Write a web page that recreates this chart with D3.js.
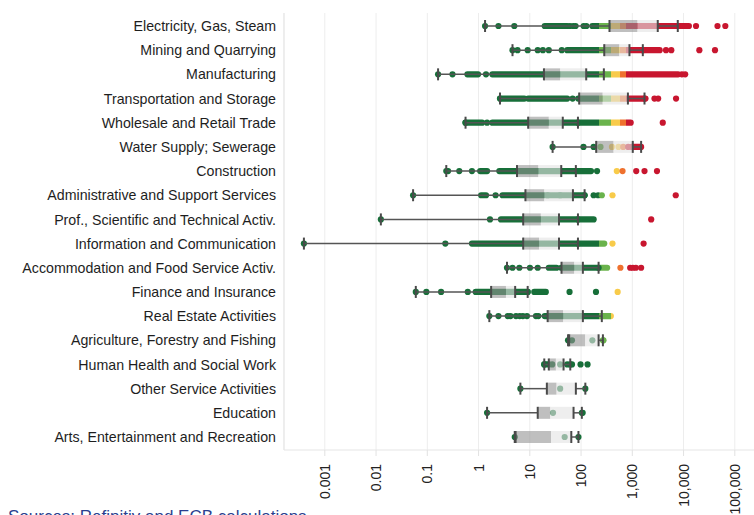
<!DOCTYPE html>
<html>
<head>
<meta charset="utf-8">
<script src="https://cdn.jsdelivr.net/npm/d3@7"></script>
<style>
  html, body { margin: 0; padding: 0; background: #fff; }
  svg { display: block; font-family: "Liberation Sans", Arial, sans-serif; }
</style>
</head>
<body>
<svg id="chart" width="754" height="515"></svg>
<script>
// Sectors, top to bottom
const sectors = [
  "Electricity, Gas, Steam",
  "Mining and Quarrying",
  "Manufacturing",
  "Transportation and Storage",
  "Wholesale and Retail Trade",
  "Water Supply; Sewerage",
  "Construction",
  "Administrative and Support Services",
  "Prof., Scientific and Technical Activ.",
  "Information and Communication",
  "Accommodation and Food Service Activ.",
  "Finance and Insurance",
  "Real Estate Activities",
  "Agriculture, Forestry and Fishing",
  "Human Health and Social Work",
  "Other Service Activities",
  "Education",
  "Arts, Entertainment and Recreation"
];

// Box-plot statistics per sector (log scale)
const lowWhisker  = [1.37, 4.7, 0.166, 2.68, 0.57, 28.5, 0.24, 0.054, 0.0127, 0.0004, 3.67, 0.061, 1.66, 57, 19.6, 6.7, 1.5, 5.2];
const q1          = [367, 290, 19.3, 94, 9.5, 202, 5.75, 8.4, 7.6, 7.6, 42.5, 1.8, 22.8, 60, 24, 22, 14.6, 5.4];
const median      = [1290, 570, 40, 270, 24, 440, 15, 19.6, 16.8, 15.5, 75, 3.5, 45.7, 123, 33, 34, 25.6, 26.5];
const q3          = [3210, 900, 129, 840, 45, 1045, 42, 71, 38, 38, 111, 5.3, 111, 225, 46.6, 81, 73, 66];
const highWhisker = [7890, 1640, 285, 1770, 89, 1520, 81, 120, 89, 89, 225, 9.3, 260, 273, 63, 124, 106, 91];

// Ranges where firm observations are packed so densely they merge into a band
const denseRuns = [
  [[20, 55], [170, 13000]],
  [[55, 3500]],
  [[0.62, 1.0], [1.9, 8000]],
  [[2.7, 8], [9.5, 55], [90, 1850]],
  [[0.57, 1.2], [1.9, 950]],
  [[1000, 1420]],
  [[1.1, 1.5], [2.6, 160]],
  [[1.15, 1.43], [3, 120]],
  [[2.8, 180]],
  [[0.76, 290]],
  [[24, 34], [42, 330]],
  [[0.9, 9.3], [12.5, 21]],
  [[20, 390]],
  [],
  [[19.6, 24]],
  [],
  [],
  []
];

// Individual observations outside the dense bands
const singlePoints = [
  [2.5, 5.1, 62, 72, 80, 115, 130, 17900, 47000, 66800],
  [5.9, 9.3, 14.6, 18.4, 24, 43, 4650, 5900, 20800, 42000],
  [0.317, 1.43, 9500, 11000],
  [70, 2770, 3270, 7300],
  [1.5, 4020],
  [114, 180, 245, 410, 550, 680, 850],
  [0.26, 0.43, 0.76, 210, 510, 660, 1220, 1770, 3100],
  [2.2, 22.8, 40, 180, 220, 260, 420, 7200],
  [1.71, 2390],
  [0.23, 420, 1700],
  [4.7, 6.4, 10.3, 14.6, 600, 930, 1050, 1200, 1520],
  [0.098, 0.19, 0.63, 61, 200, 530],
  [2.5, 3.8, 4.3, 5.5, 6.5, 7.5, 9, 13.5, 15],
  [68, 170, 280],
  [28, 40, 55, 68, 100, 137],
  [40],
  [29, 110],
  [49]
];

// Value classes for point colouring
const classBreaks = [230, 400, 600, 780];
const classColors = ["#176f39", "#6ab34c", "#f8cb4a", "#ef712e", "#c8162f"];

// Axis ticks
const tickValues = [0.001, 0.01, 0.1, 1, 10, 100, 1000, 10000, 100000];
const tickLabels = ["0.001", "0.01", "0.1", "1", "10", "100", "1,000", "10,000", "100,000"];

const sourceNote = "Sources: Refinitiv and ECB calculations";

// ---------------------------------------------------------------
const svg = d3.select("#chart");
const plotLeft = 284, plotRight = 754, plotTop = 13, plotBottom = 450;

const x = d3.scaleLog().domain([0.001, 100000]).range([324.3, 734.3]);
const y = d3.scalePoint().domain(sectors).range([26, 437]);
const color = d3.scaleThreshold().domain(classBreaks).range(classColors);

const boxH = 12, dotR = 3.1;

// Horizontal gradient that colours the dense bands by value class
const defs = svg.append("defs");
const grad = defs.append("linearGradient")
  .attr("id", "valueGrad")
  .attr("gradientUnits", "userSpaceOnUse")
  .attr("x1", plotLeft).attr("x2", plotRight).attr("y1", 0).attr("y2", 0);
const span = plotRight - plotLeft;
grad.append("stop").attr("offset", 0).attr("stop-color", classColors[0]);
classBreaks.forEach((b, i) => {
  const off = (x(b) - plotLeft) / span;
  grad.append("stop").attr("offset", off).attr("stop-color", classColors[i]);
  grad.append("stop").attr("offset", off).attr("stop-color", classColors[i + 1]);
});
grad.append("stop").attr("offset", 1).attr("stop-color", classColors[classColors.length - 1]);

// Gridlines
const gridAxis = d3.axisBottom(x).tickValues(tickValues).tickSize(-(plotBottom - plotTop)).tickFormat("");
const grid = svg.append("g").attr("transform", `translate(0,${plotBottom})`).call(gridAxis);
grid.select(".domain").remove();
grid.selectAll("line").attr("stroke", "#ededed").attr("stroke-width", 1);

// Frame (left and bottom)
svg.append("line").attr("x1", plotLeft).attr("x2", plotLeft).attr("y1", plotTop).attr("y2", plotBottom)
  .attr("stroke", "#e2e2e2").attr("stroke-width", 1.2);
svg.append("line").attr("x1", plotLeft).attr("x2", plotRight).attr("y1", plotBottom).attr("y2", plotBottom)
  .attr("stroke", "#e6e6e6").attr("stroke-width", 1.2);

// Bottom axis with rotated labels
const xAxis = d3.axisBottom(x).tickValues(tickValues).tickSize(6)
  .tickFormat((d, i) => tickLabels[i]);
const ax = svg.append("g").attr("transform", `translate(0,${plotBottom})`).call(xAxis);
ax.select(".domain").remove();
ax.selectAll(".tick line").attr("stroke", "#e2e2e2");
ax.selectAll(".tick text")
  .attr("transform", "rotate(-90)")
  .attr("text-anchor", "end")
  .attr("x", -14).attr("y", 0).attr("dy", "0.36em")
  .attr("fill", "#222").attr("font-size", 14)
  .style("font-family", "Liberation Sans, Arial, sans-serif");

// Category labels
svg.append("g").selectAll("text").data(sectors).join("text")
  .attr("x", 276).attr("y", d => y(d)).attr("dy", "0.36em")
  .attr("text-anchor", "end").attr("font-size", 14.2).attr("fill", "#1e1e1e")
  .text(d => d);

// Rows
const rows = svg.append("g").selectAll("g").data(sectors).join("g")
  .attr("transform", d => `translate(0,${y(d)})`);

// Dense bands and single observations (rows shift only vertically, so the
// user-space gradient stays aligned with the x scale)
rows.each(function(d, i) {
  const g = d3.select(this);
  g.selectAll("rect.run").data(denseRuns[i]).join("rect")
    .attr("class", "run")
    .attr("x", r => x(r[0]) - dotR)
    .attr("width", r => x(r[1]) - x(r[0]) + 2 * dotR)
    .attr("y", -dotR).attr("height", 2 * dotR)
    .attr("rx", dotR)
    .attr("fill", "url(#valueGrad)");
  const pts = singlePoints[i].concat([lowWhisker[i], highWhisker[i]]);
  g.selectAll("circle").data(pts).join("circle")
    .attr("cx", v => x(v)).attr("cy", 0).attr("r", dotR)
    .attr("fill", v => color(v));
});

// Whisker lines
rows.append("line")
  .attr("x1", (d, i) => x(lowWhisker[i])).attr("x2", (d, i) => x(q1[i]))
  .attr("stroke", "#555").attr("stroke-width", 1.5);
rows.append("line")
  .attr("x1", (d, i) => x(q3[i])).attr("x2", (d, i) => x(highWhisker[i]))
  .attr("stroke", "#555").attr("stroke-width", 1.5);

// Boxes: darker lower half, lighter upper half
rows.append("rect")
  .attr("x", (d, i) => x(q1[i])).attr("width", (d, i) => x(median[i]) - x(q1[i]))
  .attr("y", -boxH / 2).attr("height", boxH)
  .attr("fill", "rgb(148,148,148)").attr("fill-opacity", 0.6);
rows.append("rect")
  .attr("x", (d, i) => x(median[i])).attr("width", (d, i) => x(q3[i]) - x(median[i]))
  .attr("y", -boxH / 2).attr("height", boxH)
  .attr("fill", "rgb(228,228,228)").attr("fill-opacity", 0.62);

// Box edges and whisker caps
const caps = [lowWhisker, q1, q3, highWhisker];
rows.each(function(d, i) {
  d3.select(this).selectAll("line.cap").data(caps.map(a => a[i])).join("line")
    .attr("class", "cap")
    .attr("x1", v => x(v)).attr("x2", v => x(v))
    .attr("y1", -boxH / 2).attr("y2", boxH / 2)
    .attr("stroke", "#4a4a4a").attr("stroke-width", 2);
});

// Source note
svg.append("text").attr("x", 8).attr("y", 522)
  .attr("font-size", 17).attr("fill", "#2a3f8f")
  .text(sourceNote);
</script>
</body>
</html>
